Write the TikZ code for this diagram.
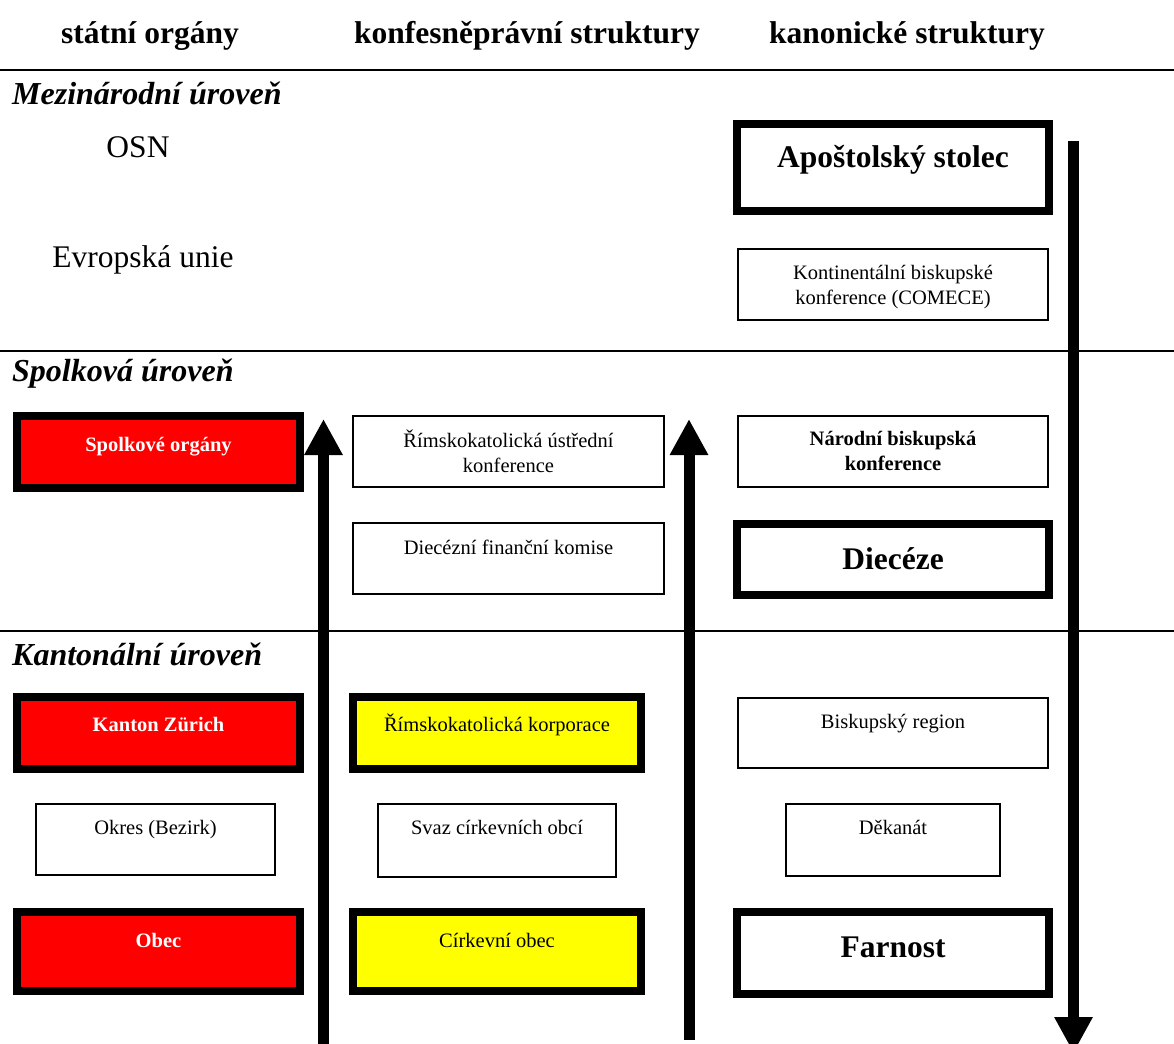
\documentclass[tikz,border=0pt]{standalone}
\usepackage{fontspec}
\setmainfont{Liberation Serif}
\usetikzlibrary{arrows.meta}
\definecolor{boxyellow}{RGB}{255,255,0}
\definecolor{boxred}{RGB}{255,0,0}
\tikzset{
  big/.style={font=\fontsize{31.5}{36}\selectfont\bfseries},
  small/.style={font=\fontsize{20.5}{25}\selectfont, align=center, inner sep=0pt},
  smallb/.style={small, font=\fontsize{20.5}{25}\selectfont\bfseries},
  level/.style={font=\fontsize{32}{36}\selectfont\bfseries\itshape, anchor=west, inner sep=0pt},
  plain/.style={font=\fontsize{31.5}{36}\selectfont, inner sep=0pt},
  thickbox/.style={draw=black, line width=8pt, rectangle, inner sep=0pt},
  thinbox/.style={draw=black, line width=2pt, rectangle, inner sep=0pt},
  redbox/.style={thickbox, fill=boxred},
  yellowbox/.style={thickbox, fill=boxyellow},
  sep/.style={line width=2pt},
  bigarrow/.style={line width=11pt, -{Triangle[width=36pt,length=36pt]}}
}
\begin{document}
\begin{tikzpicture}[x=1pt,y=-1pt]
\useasboundingbox (0,0) rectangle (1174,1043);
\clip (0,0) rectangle (1174,1043);
% headers
\node[big, inner sep=0pt] (h1) at (150,36) {státní orgány};
\node[big, inner sep=0pt] (h2) at (527,36) {konfesněprávní struktury};
\node[big, inner sep=0pt] (h3) at (907,36) {kanonické struktury};
% separators
\coordinate (l1a) at (0,70); \coordinate (l1b) at (1174,70);
\coordinate (l2a) at (0,351); \coordinate (l2b) at (1174,351);
\coordinate (l3a) at (0,631); \coordinate (l3b) at (1174,631);
\draw[sep] (l1a) -- (l1b);
\draw[sep] (l2a) -- (l2b);
\draw[sep] (l3a) -- (l3b);
% level labels
\node[level] (lv1) at (12,93) {Mezinárodní úroveň};
\node[level] (lv2) at (12,374) {Spolková úroveň};
\node[level] (lv3) at (12,654) {Kantonální úroveň};
% international
\node[plain] (osn) at (138,147) {OSN};
\node[plain] (eu) at (143,260) {Evropská unie};
\node[thickbox, minimum width=312, minimum height=87] (apo) at (893,167.5) {};
\node[big, inner sep=0pt] (tapo) at ([yshift=-40pt]apo.north) {Apoštolský stolec};
\node[thinbox, minimum width=310, minimum height=71] (kont) at (893,284.5) {};
\node[small] (tkont) at ([yshift=-39pt]kont.north) {Kontinentální biskupské\\konference (COMECE)};
% federal
\node[redbox, minimum width=283, minimum height=72] (spo) at (158.5,452) {};
\node[smallb, text=white] (tspo) at ([yshift=-35pt]spo.north) {Spolkové orgány};
\node[thinbox, minimum width=311, minimum height=71] (rku) at (508.5,451.5) {};
\node[small] (trku) at ([yshift=-36pt]rku.north) {Římskokatolická ústřední\\konference};
\node[thinbox, minimum width=310, minimum height=71] (nbk) at (893,451.5) {};
\node[smallb] (tnbk) at ([yshift=-36pt]nbk.north) {Národní biskupská\\konference};
\node[thinbox, minimum width=311, minimum height=71] (dfk) at (508.5,558.5) {};
\node[small] (tdfk) at ([yshift=-25pt]dfk.north) {Diecézní finanční komise};
\node[thickbox, minimum width=312, minimum height=71] (die) at (893,559.5) {};
\node[big, inner sep=0pt] (tdie) at ([yshift=-39pt]die.north) {Diecéze};
% cantonal
\node[redbox, minimum width=283, minimum height=72] (kan) at (158.5,733) {};
\node[smallb, text=white] (tkan) at ([yshift=-32pt]kan.north) {Kanton Zürich};
\node[yellowbox, minimum width=288, minimum height=72] (kor) at (497,733) {};
\node[small] (tkor) at ([yshift=-32pt]kor.north) {Římskokatolická korporace};
\node[thinbox, minimum width=310, minimum height=70] (bre) at (893,733) {};
\node[small] (tbre) at ([yshift=-27pt]bre.north) {Biskupský region};
\node[thinbox, minimum width=239, minimum height=71] (okr) at (155.5,839.5) {};
\node[small] (tokr) at ([yshift=-27pt]okr.north) {Okres (Bezirk)};
\node[thinbox, minimum width=238, minimum height=73] (svz) at (497,840.5) {};
\node[small] (tsvz) at ([yshift=-24pt]svz.north) {Svaz církevních obcí};
\node[thinbox, minimum width=214, minimum height=72] (dek) at (893,840) {};
\node[small] (tdek) at ([yshift=-24pt]dek.north) {Děkanát};
\node[redbox, minimum width=283, minimum height=79] (obe) at (158.5,951.5) {};
\node[smallb, text=white] (tobe) at ([yshift=-32pt]obe.north) {Obec};
\node[yellowbox, minimum width=288, minimum height=79] (cob) at (497,951.5) {};
\node[small] (tcob) at ([yshift=-32pt]cob.north) {Církevní obec};
\node[thickbox, minimum width=312, minimum height=82] (far) at (893,953) {};
\node[big, inner sep=0pt] (tfar) at ([yshift=-39pt]far.north) {Farnost};
% arrows
\coordinate (a1s) at (323.5,1050); \coordinate (a1e) at (323.5,419);
\coordinate (a2s) at (689,1040); \coordinate (a2e) at (689,419);
\coordinate (a3s) at (1073.5,141); \coordinate (a3e) at (1073.5,1053);
\draw[bigarrow] (a1s) -- (a1e);
\draw[bigarrow] (a2s) -- (a2e);
\draw[bigarrow] (a3s) -- (a3e);
\end{tikzpicture}
\end{document}
